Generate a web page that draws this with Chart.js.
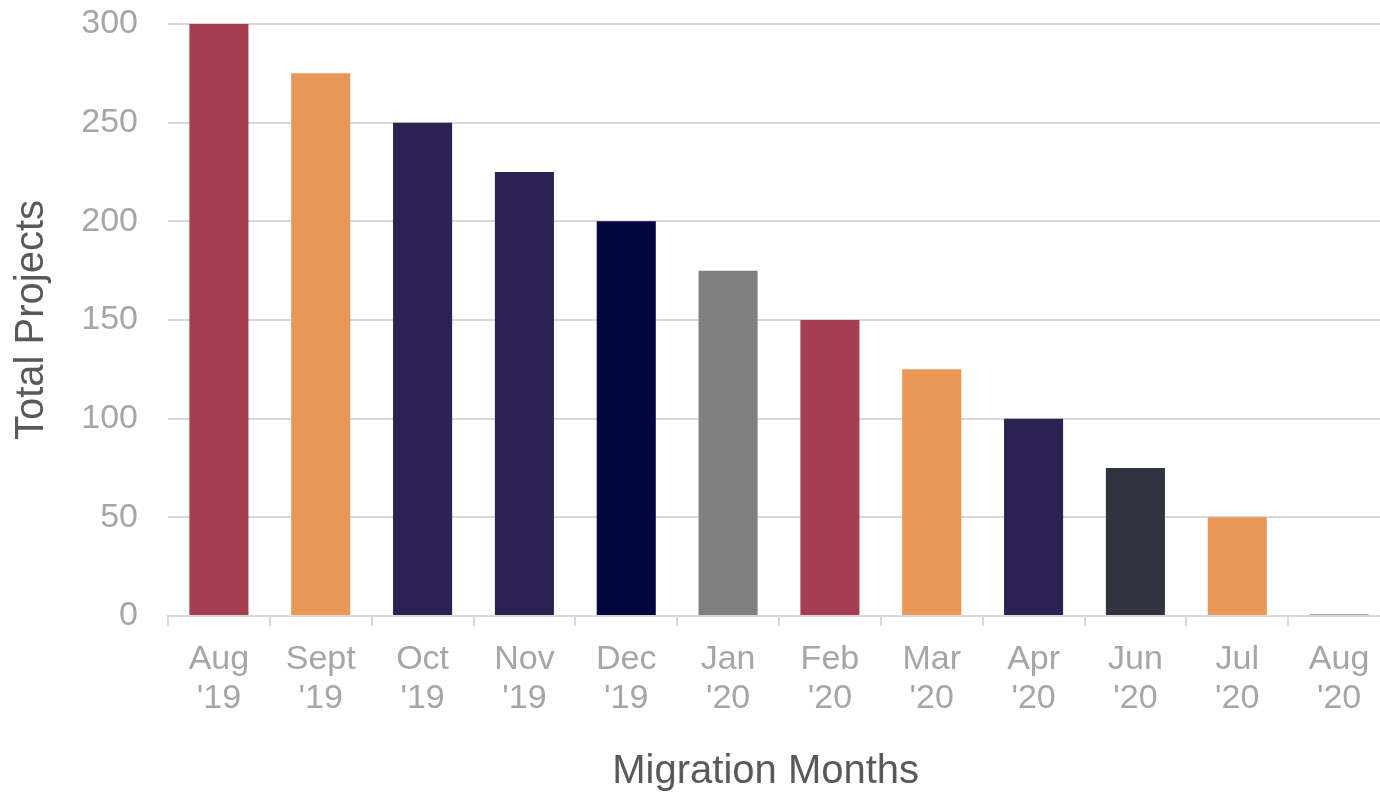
<!DOCTYPE html>
<html><head><meta charset="utf-8">
<script src="https://cdn.jsdelivr.net/npm/chart.js@4/dist/chart.umd.min.js"></script>
<style>html,body{margin:0;padding:0;background:#fff;overflow:hidden}#wrap{width:1390px;height:792px;position:relative}</style>
</head><body><div id="wrap"><canvas id="c"></canvas></div>
<script>
const categories = [["Aug","'19"],["Sept","'19"],["Oct","'19"],["Nov","'19"],["Dec","'19"],["Jan","'20"],["Feb","'20"],["Mar","'20"],["Apr","'20"],["Jun","'20"],["Jul","'20"],["Aug","'20"]];
const totalProjects = [300,275,250,225,200,175,150,125,100,75,50,1];
const barColors = ["#a63d50","#e89757","#2b2152","#2b2152","#03053d","#808080","#a63d50","#e89757","#2b2152","#31333f","#e89757","#a6a6a6"];
const yTicks = [0,50,100,150,200,250,300];

const font = "'Liberation Sans', Arial, sans-serif";
const ch = new Chart(document.getElementById('c'), {
  type: 'bar',
  data: { labels: categories, datasets: [{ data: totalProjects, backgroundColor: barColors, categoryPercentage: 1, barPercentage: 0.58 }] },
  options: {
    responsive: true, maintainAspectRatio: false, animation: false,
    layout: { padding: { top: 0, right: 0, left: 8, bottom: 0 } },
    plugins: { legend: { display: false }, tooltip: { enabled: false } },
    scales: {
      x: {
        offset: true,
        afterFit: s => { s.height = 176; },
        grid: { offset: true, drawOnChartArea: false, drawTicks: true, tickLength: 10, color: '#d9d9d9', lineWidth: 2 },
        border: { display: true, color: '#d9d9d9', width: 2 },
        ticks: { color: '#a6a6a6', font: { family: font, size: 34, lineHeight: 1.15 }, padding: 14, maxRotation: 0, autoSkip: false },
        title: { display: true, text: 'Migration Months\u2004\u2004', color: '#595959', font: { family: font, size: 40, lineHeight: 1 }, padding: { top: 0, bottom: 0 } }
      },
      y: {
        min: 0, max: 300,
        afterFit: s => { s.width = 160; s.paddingTop = 24; s.paddingBottom = 0; },
        afterBuildTicks: s => { s.ticks = yTicks.map(v => ({ value: v })); },
        grid: { drawTicks: false, color: '#d9d9d9', lineWidth: 2 },
        border: { display: false },
        ticks: { color: '#a6a6a6', font: { family: font, size: 34 }, padding: 30 },
        title: { display: true, text: 'Total Projects', color: '#595959', font: { family: font, size: 40, lineHeight: 1.2 }, padding: { top: 0, bottom: 0 } }
      }
    }
  }
});
</script></body></html>
